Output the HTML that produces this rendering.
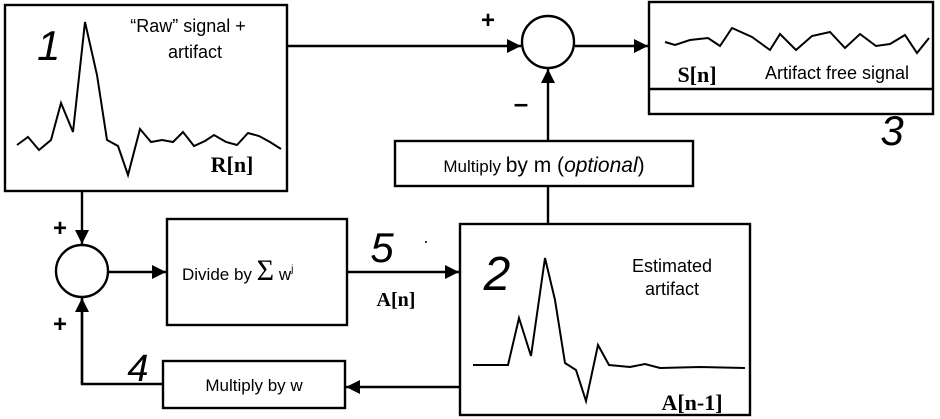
<!DOCTYPE html>
<html><head><style>
html,body{margin:0;padding:0;background:#fff;}
svg{display:block;}
text{font-family:"Liberation Sans",sans-serif;fill:#000;}
.s{font-family:"Liberation Serif",serif;font-weight:bold;}
</style></head><body>
<svg width="940" height="419" viewBox="0 0 940 419" xmlns="http://www.w3.org/2000/svg">
<defs>
<marker id="b" viewBox="0 0 10 10" markerWidth="16" markerHeight="14" refX="10" refY="5" orient="auto" markerUnits="userSpaceOnUse"><path d="M0,0 L10,5 L0,10 z" fill="#000"/></marker></defs>
<g fill="none" stroke="#000" stroke-width="2.4">
<rect x="5" y="5" width="282" height="186"/>
<polyline stroke-width="2" points="17,145 28,137 39,150 51,140 61,103 73,132 85,22 97,75 107,140 118,146 128,175 140,129 151,142 162,140 173,142 183,132 194,146 205,141 214,135 226,142 237,145 248,133 259,136 270,142 281,149"/>
<line x1="287" y1="46" x2="521" y2="46" marker-end="url(#b)"/>
<circle cx="548" cy="42" r="26"/>
<line x1="575" y1="46" x2="648" y2="46" marker-end="url(#b)"/>
<rect x="649" y="2" width="284" height="112"/>
<line x1="649" y1="89" x2="933" y2="89"/>
<polyline stroke-width="2" points="665,42 675,45 690,40 708,38 720,46 732,28 752,37 770,50 780,34 796,50 812,36 830,32 845,48 860,34 876,46 890,44 905,35 917,53 929,38"/>
<rect x="395" y="141" width="298" height="45"/>
<line x1="548" y1="141" x2="548" y2="69" marker-end="url(#b)"/>
<line x1="548" y1="186" x2="548" y2="224"/>
<rect x="460" y="224" width="290" height="191"/>
<polyline stroke-width="2" points="473,365 508,365 519,318 531,356 545,258 555,300 565,363 576,370 586,401 598,345 609,365 630,367 645,364 660,368 700,367 745,368"/>
<rect x="167" y="219" width="180" height="106"/>
<line x1="347" y1="272" x2="459" y2="272" marker-end="url(#b)"/>
<circle cx="82" cy="271" r="26"/>
<line x1="82" y1="191" x2="82" y2="244" marker-end="url(#b)"/>
<line x1="108" y1="272" x2="166" y2="272" marker-end="url(#b)"/>
<rect x="163" y="361" width="182" height="47"/>
<line x1="460" y1="387" x2="346" y2="387" marker-end="url(#b)"/>
<polyline points="163,384 82,384 82,299"/>
<line x1="82" y1="384" x2="82" y2="298" marker-end="url(#b)"/>
</g>
<text x="37" y="60" font-size="42" font-style="italic">1</text>
<text x="188" y="32" font-size="18" text-anchor="middle">“Raw” signal +</text>
<text x="195" y="58" font-size="18" text-anchor="middle">artifact</text>
<text x="232" y="172" font-size="22" class="s" text-anchor="middle">R[n]</text>
<text x="488" y="28" font-size="24" font-weight="bold" text-anchor="middle">+</text>
<text x="521" y="112" font-size="26" font-weight="bold" text-anchor="middle">–</text>
<text x="697" y="82" font-size="22" class="s" text-anchor="middle">S[n]</text>
<text x="837" y="79" font-size="18" text-anchor="middle">Artifact free signal</text>
<text x="892" y="145" font-size="42" font-style="italic" text-anchor="middle">3</text>
<text x="544" y="172" font-size="17" text-anchor="middle">Multiply <tspan font-size="21">by m (<tspan font-style="italic">optional</tspan>)</tspan></text>
<text x="497" y="290" font-size="48" font-style="italic" text-anchor="middle">2</text>
<text x="672" y="272" font-size="18" text-anchor="middle">Estimated</text>
<text x="672" y="295" font-size="18" text-anchor="middle">artifact</text>
<text x="692" y="410" font-size="22" class="s" text-anchor="middle">A[n-1]</text>
<text x="182" y="280" font-size="17">Divide by <tspan font-size="30" font-family="Liberation Serif,serif">Σ</tspan> w<tspan font-size="10" dy="-8">j</tspan></text>
<text x="382" y="262" font-size="42" font-style="italic" text-anchor="middle">5</text>
<text x="396" y="306" font-size="20" class="s" text-anchor="middle">A[n]</text>
<text x="60" y="236" font-size="24" font-weight="bold" text-anchor="middle">+</text>
<text x="60" y="332" font-size="24" font-weight="bold" text-anchor="middle">+</text>
<text x="138" y="381" font-size="38" font-style="italic" text-anchor="middle">4</text>
<text x="254" y="391" font-size="17" text-anchor="middle">Multiply by w</text>
<circle cx="426" cy="242" r="1" fill="#000"/>
</svg>
</body></html>
